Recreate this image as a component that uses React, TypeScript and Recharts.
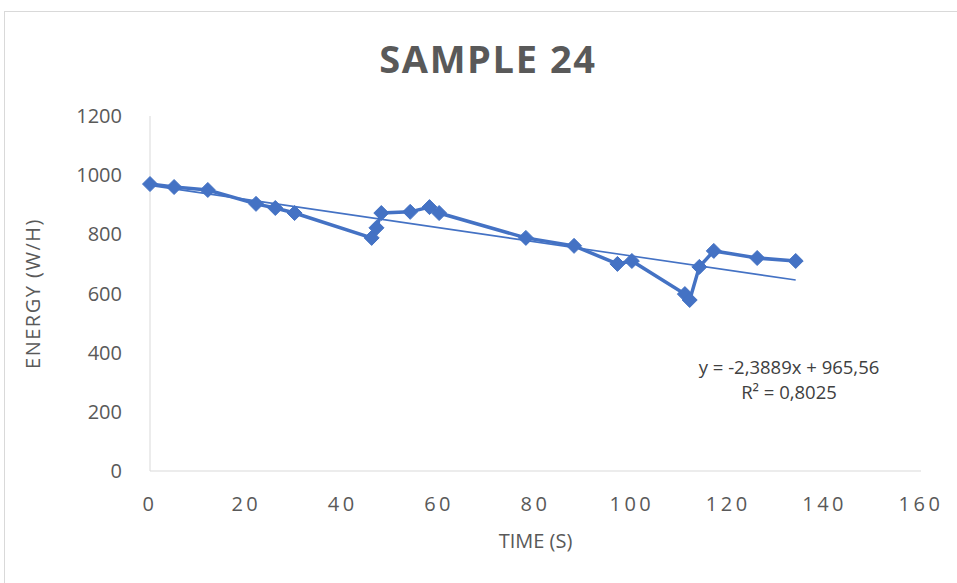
import { ComposedChart, Line, XAxis, YAxis, Customized } from "recharts";

// measured points (time in s, energy in W/H)
const times = [0, 5, 12, 22, 26, 30, 46, 47, 48, 54, 58, 60, 78, 88, 97, 100, 111, 112, 114, 117, 126, 134];
const energy = [970, 960, 950, 903, 889, 872, 788, 822, 872, 876, 892, 872, 788, 761, 700, 710, 598, 578, 690, 744, 720, 710];

const xTicks = [0, 20, 40, 60, 80, 100, 120, 140, 160];
const yTicks = [0, 200, 400, 600, 800, 1000, 1200];

// linear trendline as printed on the chart
const slope = -2.3889;
const intercept = 965.56;
const trendX = [0, 134];

const BLUE = "#4472C4";
const GREY = "#595959";
const FONT = "'Open Sans', Calibri, sans-serif";

const data = times.map((t, i) => ({ t, e: energy[i] }));
const trend = trendX.map((t) => ({ t, fit: slope * t + intercept }));

const Diamond = (props: any) => {
  const { cx, cy } = props;
  if (cx == null || cy == null) return null;
  const r = 7.5;
  return (
    <path
      d={`M${cx},${cy - r}L${cx + r},${cy}L${cx},${cy + r}L${cx - r},${cy}Z`}
      fill={BLUE}
      stroke={BLUE}
    />
  );
};

export default function App() {
  return (
    <div style={{ position: "absolute", left: 0, top: 0, width: 957, height: 583, background: "#fff" }}>
      <div
        style={{
          position: "absolute",
          left: 4,
          top: 11,
          width: 960,
          height: 580,
          border: "1px solid #d9d9d9",
          boxSizing: "border-box",
        }}
      />
      <div
        style={{
          position: "absolute",
          left: 0,
          top: 32,
          width: 976,
          textAlign: "center",
          fontFamily: FONT,
          fontWeight: 700,
          fontSize: 38,
          letterSpacing: 1.6,
          color: GREY,
          lineHeight: "normal",
        }}
      >
        SAMPLE 24
      </div>
      <div style={{ position: "absolute", left: 0, top: 0 }}>
        <ComposedChart
          width={957}
          height={583}
          margin={{ top: 116, right: 36, bottom: 32, left: 0 }}
        >
          <XAxis
            type="number"
            dataKey="t"
            domain={[0, 160]}
            ticks={xTicks}
            interval={0}
            height={80}
            tickLine={false}
            tickMargin={20}
            stroke="#d9d9d9"
            tick={{ fill: GREY, fontSize: 20, fontFamily: FONT, letterSpacing: 3.5 }}
            label={{
              value: "TIME (S)",
              position: "insideBottom",
              offset: 3,
              style: { fill: GREY, fontSize: 20, fontFamily: FONT },
            }}
          />
          <YAxis
            type="number"
            domain={[0, 1200]}
            ticks={yTicks}
            interval={0}
            width={150}
            tickLine={false}
            tickMargin={22}
            stroke="#d9d9d9"
            tick={{ fill: GREY, fontSize: 20, fontFamily: FONT }}
            label={{
              value: "ENERGY (W/H)",
              angle: -90,
              position: "insideLeft",
              offset: 33,
              style: { fill: GREY, fontSize: 20, fontFamily: FONT, textAnchor: "middle", letterSpacing: 1.5 },
            }}
          />
          <Line
            data={trend}
            dataKey="fit"
            type="linear"
            stroke={BLUE}
            strokeWidth={1.6}
            dot={false}
            activeDot={false}
            isAnimationActive={false}
          />
          <Line
            data={data}
            dataKey="e"
            type="linear"
            stroke={BLUE}
            strokeWidth={3.5}
            dot={<Diamond />}
            activeDot={false}
            isAnimationActive={false}
          />
          <Customized
            component={() => (
              <g fontFamily={FONT} fontSize={18.5} fill="#404040" textAnchor="middle">
                <text x={789} y={374}>y = -2,3889x + 965,56</text>
                <text x={789} y={399}>R² = 0,8025</text>
              </g>
            )}
          />
        </ComposedChart>
      </div>
    </div>
  );
}
